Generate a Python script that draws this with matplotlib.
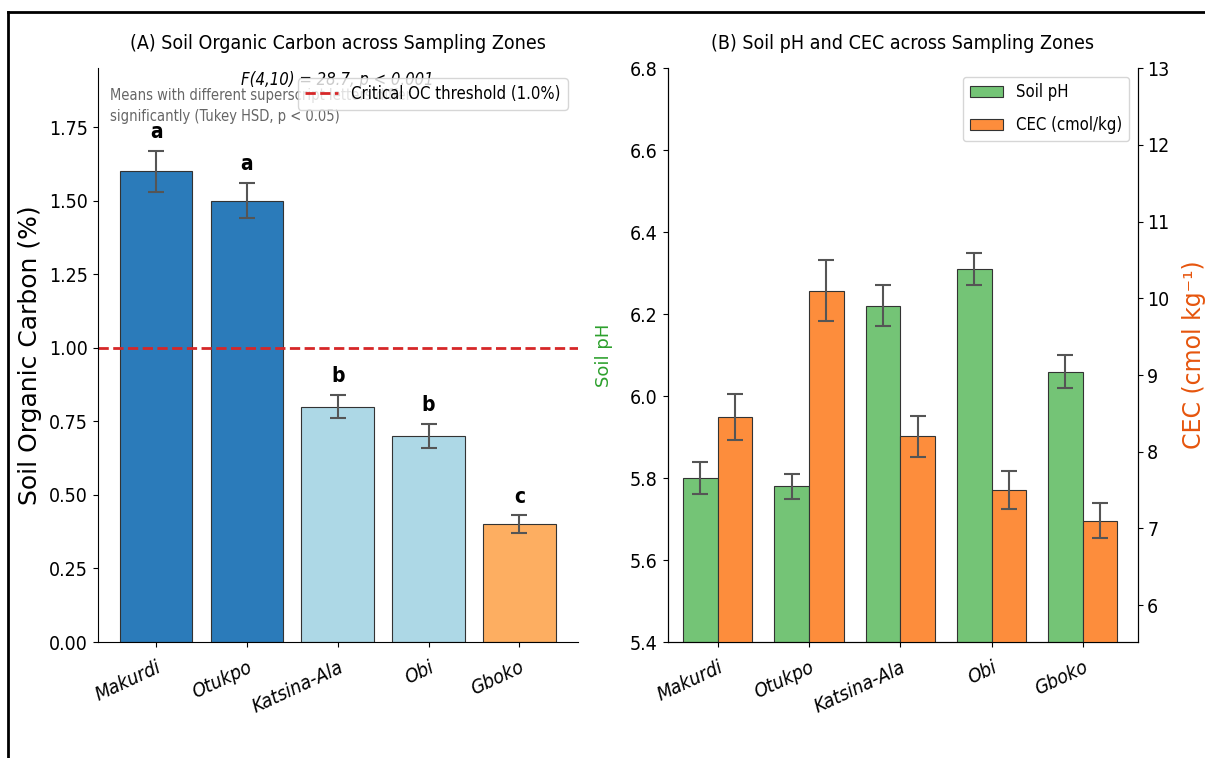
import numpy as np
import matplotlib.pyplot as plt
from matplotlib.lines import Line2D

plt.rcParams['font.family'] = 'DejaVu Sans'
plt.rcParams['font.stretch'] = 'condensed'

# ---- data ----
zones = ["Makurdi", "Otukpo", "Katsina-Ala", "Obi", "Gboko"]

oc_mean = [1.60, 1.50, 0.80, 0.70, 0.40]
oc_err = [0.07, 0.06, 0.04, 0.04, 0.03]
oc_letters = ["a", "a", "b", "b", "c"]
oc_colors = ["#2b7bba", "#2b7bba", "#add8e6", "#add8e6", "#fdae61"]

ph_mean = [5.80, 5.78, 6.22, 6.31, 6.06]
ph_err = [0.04, 0.03, 0.05, 0.04, 0.04]

cec_mean = [8.45, 10.10, 8.20, 7.50, 7.10]
cec_err = [0.30, 0.40, 0.27, 0.25, 0.23]

oc_threshold = 1.0

fig = plt.figure(figsize=(12.05, 7.58), dpi=100)
ax1 = fig.add_axes([0.0813, 0.153, 0.398, 0.757])
ax2 = fig.add_axes([0.554, 0.153, 0.390, 0.757])

x = np.arange(len(zones))
err_style = {'ecolor': '#555555', 'elinewidth': 1.5, 'capthick': 1.5}

# ---- (A) soil organic carbon ----
ax1.bar(x, oc_mean, width=0.8, yerr=oc_err, capsize=6, color=oc_colors,
        edgecolor='#333333', linewidth=0.8, error_kw=err_style)
for xi, m, e, lab in zip(x, oc_mean, oc_err, oc_letters):
    ax1.text(xi, m + e + 0.03, lab, ha='center', va='bottom',
             fontsize=15, fontweight='bold')
ax1.axhline(oc_threshold, color='#d62728', linestyle='--', linewidth=2,
            label='Critical OC threshold (1.0%)')
ax1.set_ylim(0, 1.95)
ax1.set_xticks(x)
ax1.set_xticklabels(zones, rotation=25, ha='right', fontstyle='italic',
                    rotation_mode='anchor')
ax1.set_ylabel("Soil Organic Carbon (%)", fontsize=18, fontstretch='normal',
               labelpad=5)
ax1.set_title("(A) Soil Organic Carbon across Sampling Zones", fontsize=14, pad=14)
ax1.text(0.025, 0.965, "Means with different superscript letters differ\n"
         "significantly (Tukey HSD, p < 0.05)", transform=ax1.transAxes,
         ha='left', va='top', fontsize=10.5, color='#666666', linespacing=1.5)
ax1.text(0.5, 0.995, "F(4,10) = 28.7, p < 0.001", transform=ax1.transAxes,
         ha='center', va='top', fontsize=12, fontstyle='italic')
ax1.legend(loc='upper right', fontsize=12, borderaxespad=0.6)
ax1.spines['top'].set_visible(False)
ax1.spines['right'].set_visible(False)
ax1.tick_params(labelsize=14)
ax1.tick_params(axis='x', pad=8)

# ---- (B) soil pH and CEC ----
w = 0.38
ax2.bar(x - w / 2, ph_mean, width=w, yerr=ph_err, capsize=6, color='#74c476',
        edgecolor='#333333', linewidth=0.8, label='Soil pH', error_kw=err_style)
ax2.set_ylim(5.4, 6.8)
ax2.set_yticks(np.arange(5.4, 6.81, 0.2))
ax2.set_ylabel("Soil pH", fontsize=13, color='#2ca02c', fontstretch='normal',
               labelpad=12)

ax3 = ax2.twinx()
ax3.bar(x + w / 2, cec_mean, width=w, yerr=cec_err, capsize=6, color='#fd8d3c',
        edgecolor='#333333', linewidth=0.8, label='CEC (cmol/kg)', error_kw=err_style)
ax3.set_ylim(5.52, 13)
ax3.set_yticks(range(6, 14))
ax3.set_ylabel("CEC (cmol kg⁻¹)", fontsize=17, color='#e6550d', fontstretch='normal',
               labelpad=9)

ax2.set_xlim(-0.55, 4.6)
ax2.set_xticks(x)
ax2.set_xticklabels(zones, rotation=25, ha='right', fontstyle='italic',
                    rotation_mode='anchor')
ax2.set_title("(B) Soil pH and CEC across Sampling Zones", fontsize=14, pad=14)
for a in (ax2, ax3):
    a.spines['top'].set_visible(False)
    a.tick_params(labelsize=14)
ax2.tick_params(axis='x', pad=8)

h1, l1 = ax2.get_legend_handles_labels()
h2, l2 = ax3.get_legend_handles_labels()
ax3.legend(h1 + h2, l1 + l2, loc='upper right', fontsize=12,
           labelspacing=0.9, borderaxespad=0.5)

# outer frame
fig.add_artist(Line2D([0.007, 1.0], [0.984, 0.984], color='black', lw=2,
                      transform=fig.transFigure))
fig.add_artist(Line2D([0.007, 0.007], [0.0, 0.984], color='black', lw=2,
                      transform=fig.transFigure))

fig.savefig("out.png", dpi=100)
